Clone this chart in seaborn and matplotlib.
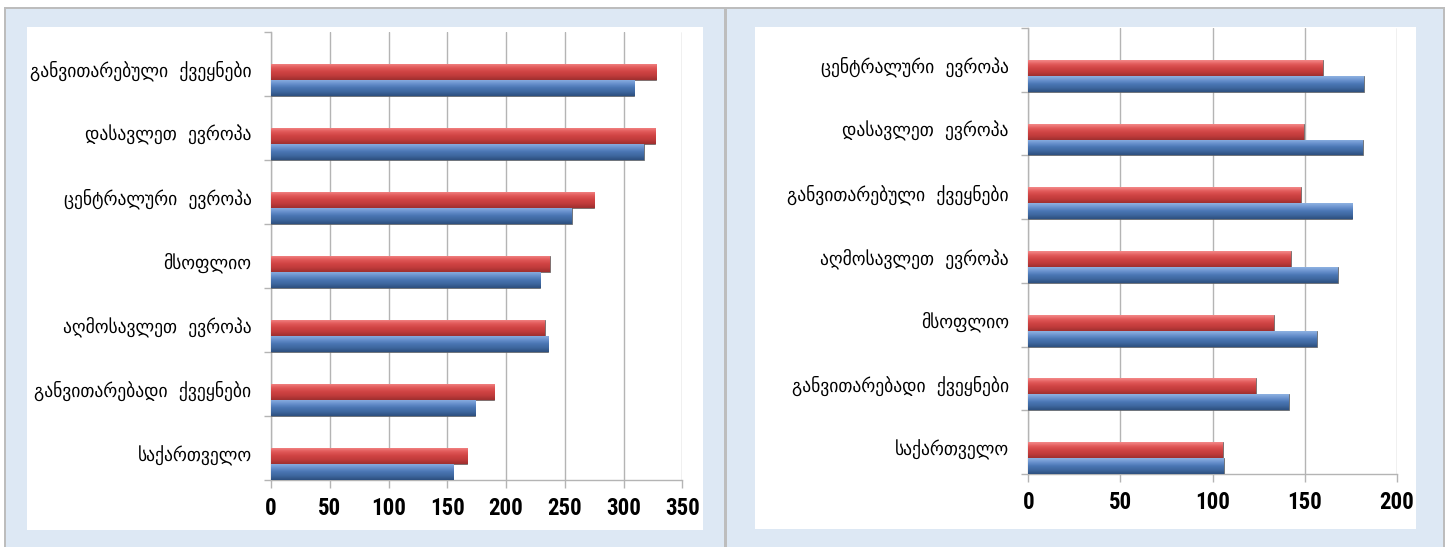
import numpy as np
import pandas as pd
import matplotlib
matplotlib.use("Agg")
import matplotlib.pyplot as plt
from matplotlib.patches import Rectangle
import seaborn as sns

# ---- data -------------------------------------------------------------
left_categories = [
    "განვითარებული  ქვეყნები",
    "დასავლეთ  ევროპა",
    "ცენტრალური  ევროპა",
    "მსოფლიო",
    "აღმოსავლეთ  ევროპა",
    "განვითარებადი  ქვეყნები",
    "საქართველო",
]
left_red = [328, 327, 275, 237, 233, 190, 167]
left_blue = [309, 317, 256, 229, 236, 174, 155]
left_ticks = [0, 50, 100, 150, 200, 250, 300, 350]

right_categories = [
    "ცენტრალური  ევროპა",
    "დასავლეთ  ევროპა",
    "განვითარებული  ქვეყნები",
    "აღმოსავლეთ  ევროპა",
    "მსოფლიო",
    "განვითარებადი  ქვეყნები",
    "საქართველო",
]
right_red = [160, 149.5, 148, 142.5, 133.5, 123.5, 105.5]
right_blue = [182, 181.5, 176, 168, 156.5, 141.5, 106]
right_ticks = [0, 50, 100, 150, 200]

# ---- style ------------------------------------------------------------
sns.set_theme(style="white")
plt.rcParams["font.family"] = ["DejaVu Sans"]

W, H = 1452, 547
RED = "#d24444"
BLUE = "#4a76b4"
RED_GRAD = ["#f48a8a", "#e25a5a", "#d04444", "#c03b3b", "#9e2f2f"]
BLUE_GRAD = ["#8fb2e2", "#6b93cf", "#4a76b4", "#3e679f", "#2d4f7e"]
PANEL_BG = "#dde8f4"
GRID = "#b4b4b4"

fig = plt.figure(figsize=(W / 100, H / 100), dpi=100)
fig.patch.set_facecolor("white")


def px_rect(x0, y0, x1, y1, **kw):
    """Rectangle given in pixel coordinates measured from the top-left."""
    fig.patches.append(Rectangle((x0 / W, 1 - y1 / H), (x1 - x0) / W, (y1 - y0) / H,
                                 transform=fig.transFigure, zorder=-5, **kw))


# framed light-blue panels with white plotting areas
px_rect(4, 7, 1445, 547, facecolor="#bdbdbd", edgecolor="none")
px_rect(6, 9, 724, 547, facecolor=PANEL_BG, edgecolor="none")
px_rect(727, 9, 1443, 547, facecolor=PANEL_BG, edgecolor="none")
px_rect(27, 27, 703, 530, facecolor="white", edgecolor="none")
px_rect(755, 27, 1416, 529, facecolor="white", edgecolor="none")


def add_axes_px(x0, y0, x1, y1):
    ax = fig.add_axes([x0 / W, 1 - y1 / H, (x1 - x0) / W, (y1 - y0) / H])
    ax.set_zorder(2)
    return ax


def shade_bars(ax, grads):
    """Give each bar a vertical cylinder-like gradient clipped to its outline."""
    for patch, colors in zip(list(ax.patches), grads):
        bb = patch.get_bbox()
        cmap = matplotlib.colors.LinearSegmentedColormap.from_list("g", colors)
        grad = np.linspace(0, 1, 64).reshape(-1, 1)
        im = ax.imshow(grad, cmap=cmap, aspect="auto", interpolation="bicubic",
                       extent=(bb.x0, bb.x1, bb.y1, bb.y0), zorder=3.1)
        im.set_clip_path(patch)


def draw_panel(ax, cats, red, blue, ticks, ylim_top):
    n = len(cats)
    df = pd.DataFrame({
        "category": cats * 2,
        "value": list(red) + list(blue),
        "series": ["a"] * n + ["b"] * n,
    })
    sns.barplot(data=df, y="category", x="value", hue="series", order=cats,
                hue_order=["a", "b"], palette=[RED, BLUE], orient="h", width=0.5,
                dodge=True, legend=False, edgecolor="#5a5a5a", linewidth=0.5, ax=ax)
    for p in ax.patches:
        p.set_zorder(3)
    # first n patches are the red series, the next n the blue one
    shade_bars(ax, [RED_GRAD] * n + [BLUE_GRAD] * n)

    ax.set_xlim(ticks[0], ticks[-1])
    ax.set_ylim(n - 0.75, ylim_top)
    ax.set_xticks(ticks)
    ax.set_xticklabels([str(t) for t in ticks], fontsize=16.5, fontweight="bold",
                       family=["Roboto Condensed", "DejaVu Sans"])
    ax.tick_params(axis="x", length=6, width=1, color=GRID, pad=6, bottom=True,
                   labelcolor="black")
    ax.xaxis.grid(True, color=GRID, linewidth=1)
    ax.set_axisbelow(True)

    pos = np.arange(n)
    ax.set_yticks(pos - 0.17)
    ax.set_yticklabels(cats, fontsize=14, fontstretch="condensed")
    ax.tick_params(axis="y", which="major", length=0, pad=14, labelcolor="black")
    ax.set_yticks(np.arange(-0.75, n, 1.0), minor=True)
    ax.tick_params(axis="y", which="minor", length=5, width=1, color=GRID, left=True)

    ax.set_xlabel("")
    ax.set_ylabel("")
    for side in ("top", "right"):
        ax.spines[side].set_visible(False)
    for side in ("left", "bottom"):
        ax.spines[side].set_color(GRID)
        ax.spines[side].set_linewidth(1)
    ax.patch.set_alpha(0)


ax_left = add_axes_px(271, 31.6, 682.3, 480)
draw_panel(ax_left, left_categories, left_red, left_blue, left_ticks, -0.75)

ax_right = add_axes_px(1028.3, 28, 1396.7, 474)
draw_panel(ax_right, right_categories, right_red, right_blue, right_ticks, -0.62)

fig.savefig("out.png", dpi=100, facecolor=fig.get_facecolor())
